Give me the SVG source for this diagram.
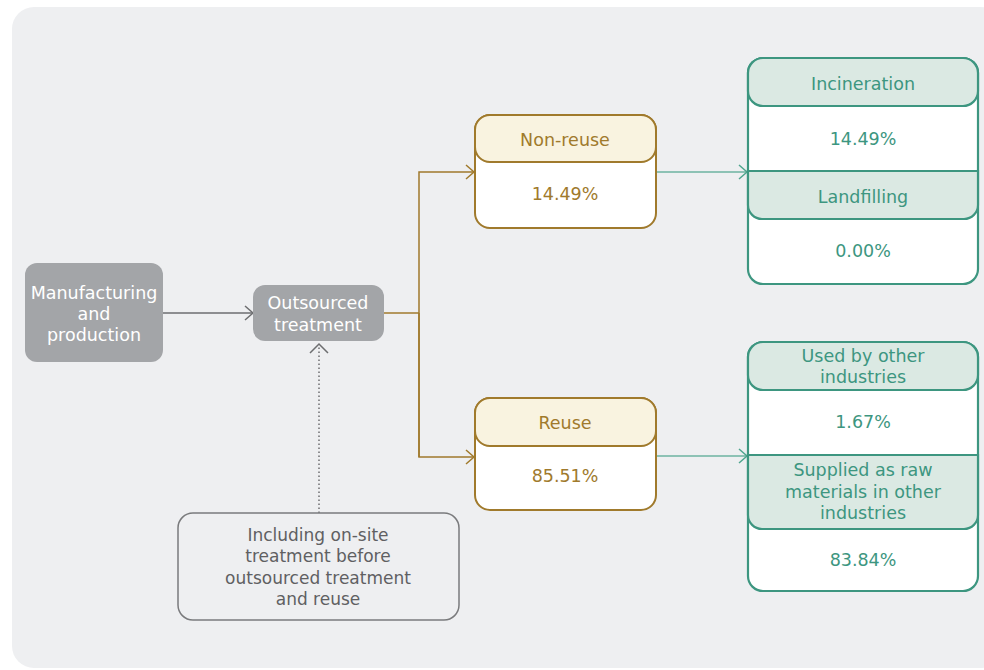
<svg xmlns="http://www.w3.org/2000/svg" width="984" height="670" viewBox="0 0 984 670">
<defs>
<style>
text{font-family:"DejaVu Sans","Noto Sans",sans-serif;font-size:17.5px;text-anchor:middle}
.w{fill:#ffffff;font-size:17.5px}
.g{fill:#a07a2c}
.t{fill:#3d9680}
.n{fill:#5f6062;font-size:17px}
.gold{stroke:#a07a2c;stroke-width:2}
.teal{stroke:#3d9680;stroke-width:2.2}
</style>
<marker id="ag" markerUnits="userSpaceOnUse" markerWidth="12" markerHeight="16" refX="9" refY="8" orient="auto"><path d="M1,1 L9,8 L1,15" fill="none" stroke="#a07a2c" stroke-width="1.5"/></marker>
<marker id="at" markerUnits="userSpaceOnUse" markerWidth="12" markerHeight="16" refX="9" refY="8" orient="auto"><path d="M1,1 L9,8 L1,15" fill="none" stroke="#4fa58e" stroke-width="1.5"/></marker>
<marker id="ay" markerUnits="userSpaceOnUse" markerWidth="12" markerHeight="16" refX="9" refY="8" orient="auto"><path d="M1,1 L9,8 L1,15" fill="none" stroke="#6d6e70" stroke-width="1.5"/></marker>
</defs>
<rect x="12" y="7" width="990" height="661" rx="22" fill="#eeeff1"/>
<g id="connectors" fill="none">
<line x1="163" y1="313" x2="253" y2="313" stroke="#6d6e70" stroke-width="1.5" marker-end="url(#ay)"/>
<polyline points="384,313 419,313" stroke="#a07a2c" stroke-width="1.5"/>
<polyline points="419,457 419,172 474,172" stroke="#a07a2c" stroke-width="1.5" marker-end="url(#ag)"/>
<polyline points="419,313 419,457 474,457" stroke="#a07a2c" stroke-width="1.5" marker-end="url(#ag)"/>
<line x1="656" y1="172" x2="747" y2="172" stroke="#6cb3a0" stroke-width="1.5" marker-end="url(#at)"/>
<line x1="656" y1="456" x2="747" y2="456" stroke="#6cb3a0" stroke-width="1.5" marker-end="url(#at)"/>
<line x1="319" y1="513" x2="319" y2="344" stroke="#6d6e70" stroke-width="1.5" stroke-dasharray="1.5,2.5"/>
<path d="M310,353 L319,344 L328,353" stroke="#6d6e70" stroke-width="1.5"/>
</g>
<g id="manufacturing">
<rect x="25" y="263" width="138" height="99" rx="12" fill="#a3a5a8"/>
<text class="w" x="94" y="299">Manufacturing</text>
<text class="w" x="94" y="320">and</text>
<text class="w" x="94" y="341">production</text>
</g>
<g id="outsourced">
<rect x="253" y="285" width="131" height="56" rx="12" fill="#a3a5a8"/>
<text class="w" x="318" y="309">Outsourced</text>
<text class="w" x="318" y="331">treatment</text>
</g>
<g id="nonreuse">
<rect x="475" y="115" width="181" height="113" rx="15" fill="#ffffff" class="gold"/>
<rect x="475" y="115" width="181" height="47" rx="15" fill="#f9f3e0" class="gold"/>
<text class="g" x="565" y="146">Non-reuse</text>
<text class="g" x="565" y="200">14.49%</text>
</g>
<g id="reuse">
<rect x="475" y="398" width="181" height="112" rx="15" fill="#ffffff" class="gold"/>
<rect x="475" y="398" width="181" height="48" rx="15" fill="#f9f3e0" class="gold"/>
<text class="g" x="565" y="429">Reuse</text>
<text class="g" x="565" y="482">85.51%</text>
</g>
<g id="disposal">
<rect x="748" y="58" width="230" height="226" rx="15" fill="#ffffff" class="teal"/>
<rect x="748" y="58" width="230" height="48" rx="15" fill="#dbe9e3" class="teal"/>
<path d="M748,171 H978 V205 A14,14 0 0 1 964,219 H762 A14,14 0 0 1 748,205 Z" fill="#dbe9e3" class="teal"/>
<text class="t" x="863" y="90">Incineration</text>
<text class="t" x="863" y="145">14.49%</text>
<text class="t" x="863" y="203">Landfilling</text>
<text class="t" x="863" y="257">0.00%</text>
</g>
<g id="reuse-detail">
<rect x="748" y="342" width="230" height="249" rx="15" fill="#ffffff" class="teal"/>
<rect x="748" y="342" width="230" height="48" rx="15" fill="#dbe9e3" class="teal"/>
<path d="M748,455 H978 V515 A14,14 0 0 1 964,529 H762 A14,14 0 0 1 748,515 Z" fill="#dbe9e3" class="teal"/>
<text class="t" x="863" y="362">Used by other</text>
<text class="t" x="863" y="383">industries</text>
<text class="t" x="863" y="428">1.67%</text>
<text class="t" x="863" y="476">Supplied as raw</text>
<text class="t" x="863" y="498">materials in other</text>
<text class="t" x="863" y="519">industries</text>
<text class="t" x="863" y="566">83.84%</text>
</g>
<g id="note">
<rect x="178" y="513" width="281" height="107" rx="15" fill="none" stroke="#7a7b7d" stroke-width="1.5"/>
<text class="n" x="318" y="541">Including on-site</text>
<text class="n" x="318" y="562">treatment before</text>
<text class="n" x="318" y="584">outsourced treatment</text>
<text class="n" x="318" y="605">and reuse</text>
</g>
</svg>
